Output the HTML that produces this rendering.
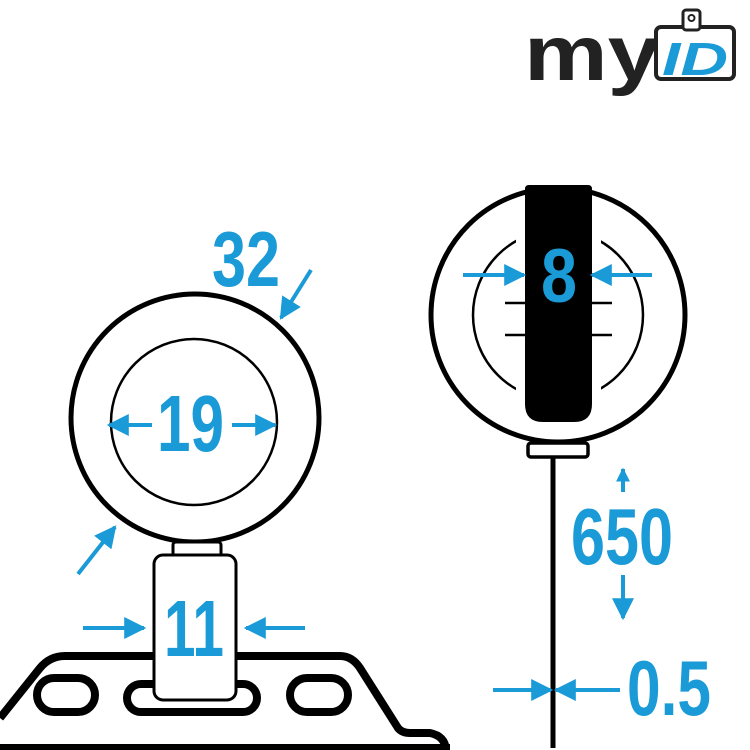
<!DOCTYPE html>
<html><head><style>
html,body{margin:0;padding:0;background:#fff;}
svg{display:block;}
text{font-family:"Liberation Sans",sans-serif;font-weight:bold;fill:#1a9ad6;}
</style></head><body>
<svg width="750" height="750" viewBox="0 0 750 750" xmlns="http://www.w3.org/2000/svg">
<defs>
<marker id="ah" viewBox="0 0 10 10" refX="9" refY="5" markerWidth="22" markerHeight="26" orient="auto" markerUnits="userSpaceOnUse"><path d="M0,0 L10,5 L0,10 z" fill="#1a9ad6"/></marker>
<marker id="ahs" viewBox="0 0 10 10" refX="9" refY="5" markerWidth="14" markerHeight="20" orient="auto" markerUnits="userSpaceOnUse"><path d="M0,0 L10,5 L0,10 z" fill="#1a9ad6"/></marker>
</defs>
<!-- logo -->
<text x="524" y="80" style="fill:#222;font-size:78px" textLength="136" lengthAdjust="spacingAndGlyphs">my</text>
<rect x="656" y="27" width="78" height="52" rx="5" fill="#fff" stroke="#222" stroke-width="4"/>
<rect x="683" y="10" width="17" height="20" rx="3" fill="#fff" stroke="#222" stroke-width="3"/>
<circle cx="691.5" cy="18" r="3" fill="none" stroke="#222" stroke-width="2"/>
<text x="662" y="75" style="font-size:46px;font-style:italic" textLength="66" lengthAdjust="spacingAndGlyphs">ID</text>

<!-- base plate -->
<g fill="none" stroke="#000" stroke-width="8" stroke-linejoin="round">
<path d="M0,718 L40,668 Q50,656 65,656 L340,656 Q352,656 360,668 L398,728 Q402,733 410,733 L430,733 Q445,736 446,750"/>
<line x1="0" y1="748" x2="450" y2="748"/>
<rect x="37" y="678" width="58" height="34" rx="17"/>
<rect x="127" y="684" width="130" height="28" rx="14"/>
<rect x="290" y="678" width="58" height="34" rx="17"/>
</g>
<!-- left circle -->
<circle cx="195" cy="418" r="124" fill="#fff" stroke="#000" stroke-width="5"/>
<circle cx="194" cy="422" r="83" fill="none" stroke="#000" stroke-width="2.5"/>
<rect x="173" y="542" width="48" height="16" rx="3" fill="#fff" stroke="#000" stroke-width="3"/>
<rect x="154" y="555" width="82" height="145" rx="9" fill="#fff" stroke="#000" stroke-width="3"/>

<text x="212" y="286" style="font-size:78px" textLength="68" lengthAdjust="spacingAndGlyphs">32</text>
<line x1="311" y1="270" x2="281" y2="318" stroke="#1a9ad6" stroke-width="4" marker-end="url(#ah)"/>
<text x="157" y="451" style="font-size:80px" textLength="67" lengthAdjust="spacingAndGlyphs">19</text>
<line x1="152" y1="425" x2="109" y2="425" stroke="#1a9ad6" stroke-width="4" marker-end="url(#ah)"/>
<line x1="232" y1="425" x2="275" y2="425" stroke="#1a9ad6" stroke-width="4" marker-end="url(#ah)"/>
<line x1="78" y1="574" x2="115" y2="527" stroke="#1a9ad6" stroke-width="4" marker-end="url(#ah)"/>
<text x="164" y="656" style="font-size:80px" textLength="60" lengthAdjust="spacingAndGlyphs">11</text>
<line x1="83" y1="628" x2="144" y2="628" stroke="#1a9ad6" stroke-width="4" marker-end="url(#ah)"/>
<line x1="305" y1="628" x2="246" y2="628" stroke="#1a9ad6" stroke-width="4" marker-end="url(#ah)"/>

<!-- right -->
<line x1="553" y1="455" x2="553" y2="748" stroke="#000" stroke-width="5"/>
<circle cx="558" cy="315" r="127" fill="#fff" stroke="#000" stroke-width="5"/>
<circle cx="558" cy="315" r="85" fill="none" stroke="#000" stroke-width="2.5"/>
<rect x="516" y="222" width="85" height="190" fill="#fff"/>
<path d="M525,189 Q525,185 529,185 L588,185 Q592,185 592,189 L592,404 Q592,422 574,422 L543,422 Q525,422 525,404 Z" fill="#000"/>
<rect x="528" y="443" width="60" height="14" rx="3" fill="#fff" stroke="#000" stroke-width="3.5"/>
<g stroke="#000" stroke-width="2.5">
<line x1="505" y1="303" x2="525" y2="303"/><line x1="592" y1="303" x2="612" y2="303"/>
<line x1="505" y1="335" x2="525" y2="335"/><line x1="592" y1="335" x2="612" y2="335"/>
</g>
<text x="541" y="302" style="font-size:76px" textLength="36" lengthAdjust="spacingAndGlyphs">8</text>
<line x1="463" y1="275" x2="524" y2="275" stroke="#1a9ad6" stroke-width="4" marker-end="url(#ah)"/>
<line x1="652" y1="275" x2="592" y2="275" stroke="#1a9ad6" stroke-width="4" marker-end="url(#ah)"/>

<text x="571" y="564" style="font-size:80px" textLength="102" lengthAdjust="spacingAndGlyphs">650</text>
<line x1="623" y1="492" x2="623" y2="469" stroke="#1a9ad6" stroke-width="4" marker-end="url(#ahs)"/>
<line x1="623" y1="575" x2="623" y2="618" stroke="#1a9ad6" stroke-width="4" marker-end="url(#ah)"/>
<text x="627" y="715" style="font-size:78px" textLength="84" lengthAdjust="spacingAndGlyphs">0.5</text>
<line x1="493" y1="690" x2="551" y2="690" stroke="#1a9ad6" stroke-width="4" marker-end="url(#ah)"/>
<line x1="620" y1="690" x2="556" y2="690" stroke="#1a9ad6" stroke-width="4" marker-end="url(#ah)"/>
</svg>
</body></html>
